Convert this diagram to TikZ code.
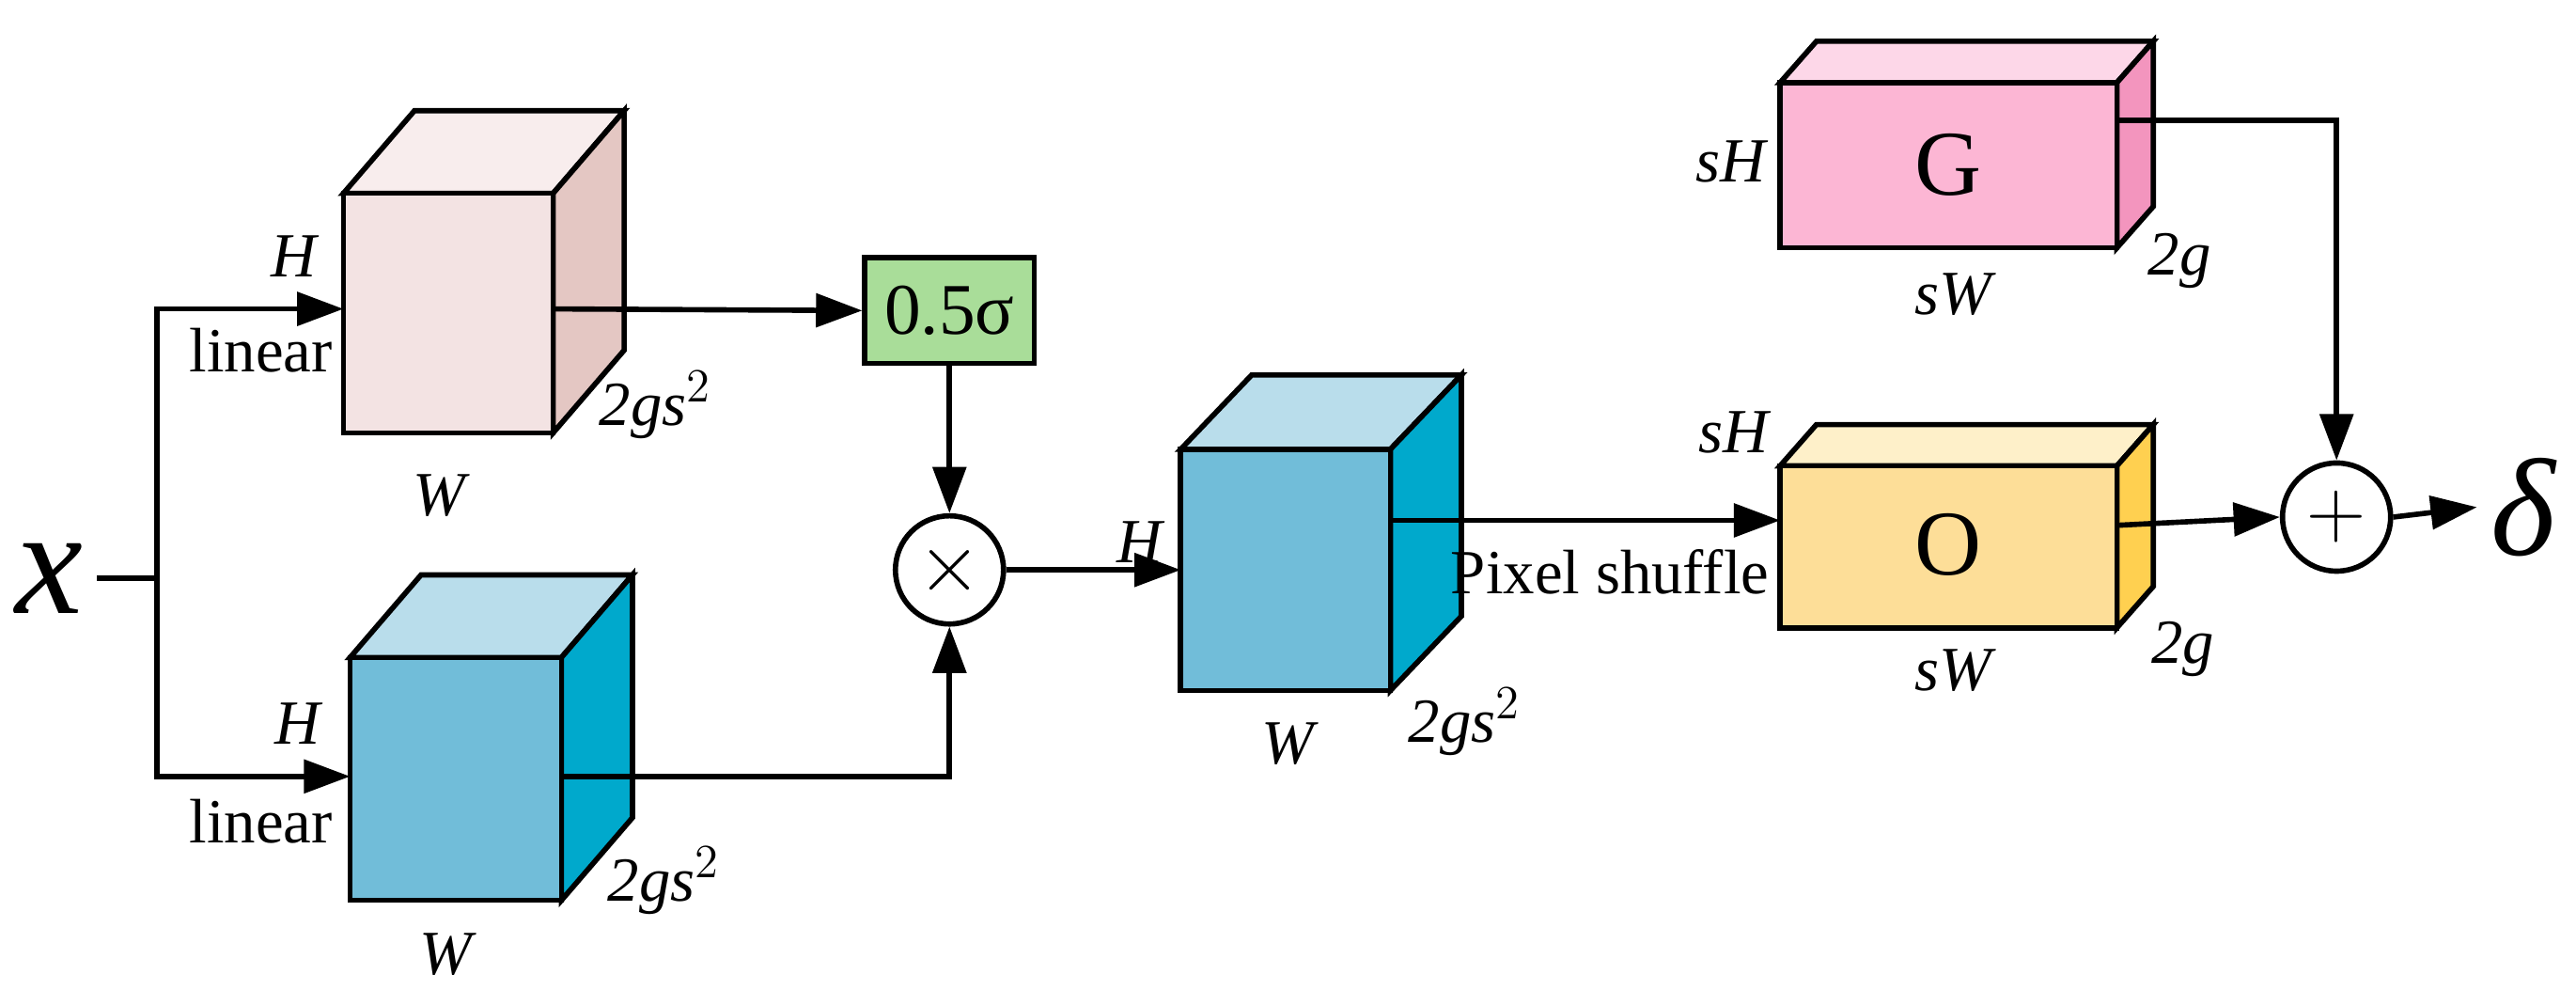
\documentclass[tikz,border=0pt]{standalone}
\usepackage{fontspec}
\setmainfont{Liberation Serif}
\usetikzlibrary{arrows.meta}
\begin{document}
\begin{tikzpicture}[x=0.01757cm,y=-0.01757cm,
  line width=1.6pt,
  arr/.style={-{Triangle[length=14pt,width=10pt]}},
  lab/.style={font=\fontsize{19}{22}\selectfont\itshape},
  txt/.style={font=\fontsize{19}{22}\selectfont},
  op/.style={circle,draw,minimum size=1.15cm,inner sep=0pt,font=\fontsize{26}{28}\selectfont}]
\useasboundingbox (0,0) rectangle (1560,599);
\definecolor{pf}{HTML}{F3E3E3}\definecolor{pt}{HTML}{F8EDED}\definecolor{ps}{HTML}{E4C7C3}
\definecolor{bf}{HTML}{71BDD9}\definecolor{bt}{HTML}{B9DDEB}\definecolor{bs}{HTML}{00A9CC}
\definecolor{yf}{HTML}{FDDE98}\definecolor{yt}{HTML}{FEF0C9}\definecolor{ys}{HTML}{FFD050}
\definecolor{gf}{HTML}{FCB6D4}\definecolor{gt}{HTML}{FDD7E8}\definecolor{gs}{HTML}{F395BE}
\definecolor{grn}{HTML}{A9DD99}
% cube macro: x1 y1 x2 y2 dx dy front top side
\newcommand\mycube[9]{%
 \filldraw[fill=#8] (#1,#2)--(#1+#5,#2-#6)--(#3+#5,#2-#6)--(#3,#2)--cycle;
 \filldraw[fill=#9] (#3,#2)--(#3+#5,#2-#6)--(#3+#5,#4-#6)--(#3,#4)--cycle;
 \filldraw[fill=#7] (#1,#2) rectangle (#3,#4);}
\mycube{208}{117}{335}{262}{43}{50}{pf}{pt}{ps}
\mycube{212}{398}{340}{545}{43}{50}{bf}{bt}{bs}
\mycube{715}{272}{842}{418}{43}{45}{bf}{bt}{bs}
\mycube{1078}{282}{1282}{380}{22}{25}{yf}{yt}{ys}
\mycube{1078}{50}{1282}{150}{22}{25}{gf}{gt}{gs}
\node[txt,font=\fontsize{28}{30}\selectfont] (G) at (1180,100) {G};
\node[txt,font=\fontsize{28}{30}\selectfont] (O) at (1180,330) {O};
\coordinate (c1) at (335,187); \coordinate (c1in) at (208,187);
\coordinate (c2) at (340,470); \coordinate (c2in) at (212,470);
\coordinate (c3in) at (715,345); \coordinate (c3) at (842,315);
\coordinate (oin) at (1078,315); \coordinate (oout) at (1282,318);
\coordinate (gout) at (1282,73);
\node[draw,fill=grn,minimum width=1.8cm,minimum height=1.12cm,txt,font=\fontsize{22}{24}\selectfont] (sig) at (575,188) {0.5σ};
\node[op] (mul) at (575,345) {$\times$};
\node[op] (add) at (1415,313) {$+$};
\node[font=\fontsize{46}{48}\selectfont\itshape] (x) at (30,350) {x};
\node[font=\fontsize{42}{44}\selectfont\itshape,anchor=west] (d) at (1500,307) {δ};
\coordinate (s) at (95,350);
\draw (x.east) -- (s);
\draw[arr] (s) |- (c1in);
\draw[arr] (s) |- (c2in);
\draw[arr] (c1) -- (sig.west);
\draw[arr] (sig.south) -- (mul.north);
\draw[arr] (c2) -| (mul.south);
\draw[arr] (mul.east) -- (c3in);
\draw[arr] (c3) -- (oin);
\draw[arr] (oout) -- (add.west);
\draw[arr] (gout) -| (add.north);
\draw[arr] (add.east) -- (d.west);
\node[lab] at (178,155) {H};
\node[txt] at (158,212) {linear};
\node[lab] at (266,300) {W};
\node[lab] at (397,245) {$\mathit{2gs}^{2}$};
\node[lab] at (180,438) {H};
\node[txt] at (158,497) {linear};
\node[lab] at (270,578) {W};
\node[lab] at (402,533) {$\mathit{2gs}^{2}$};
\node[lab] at (690,328) {H};
\node[lab] at (780,450) {W};
\node[lab] at (887,437) {$\mathit{2gs}^{2}$};
\node[txt] at (975,346) {Pixel shuffle};
\node[lab] at (1050,262) {sH};
\node[lab] at (1183,406) {sW};
\node[lab] at (1322,393) {2g};
\node[lab] at (1048,98) {sH};
\node[lab] at (1183,178) {sW};
\node[lab] at (1320,158) {2g};
\end{tikzpicture}
\end{document}
